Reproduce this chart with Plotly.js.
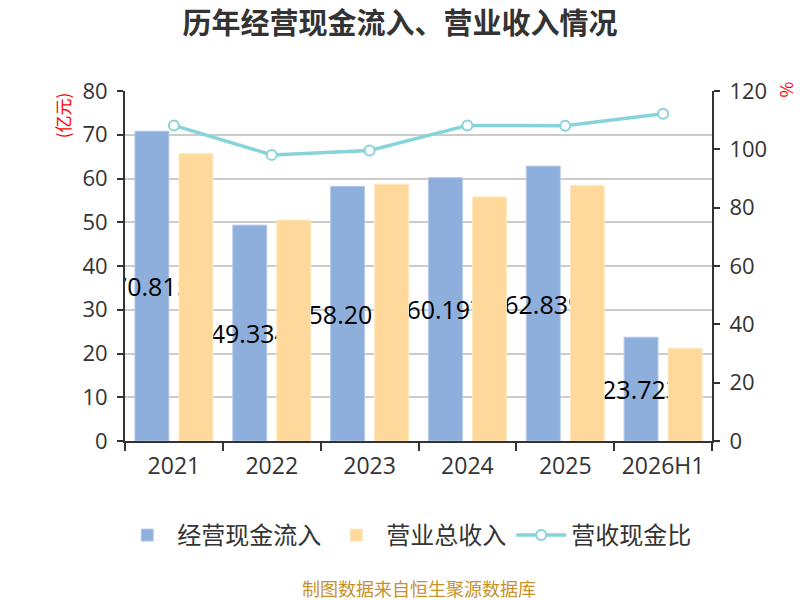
<!DOCTYPE html>
<html>
<head>
<meta charset="utf-8">
<script src="https://cdn.plot.ly/plotly-3.0.1.min.js"></script>
<style>html,body{margin:0;padding:0;background:#fff;}#chart{width:800px;height:600px;}</style>
</head>
<body>
<div id="chart"></div>
<script>
const categories = ['2021', '2022', '2023', '2024', '2025', '2026H1'];
const cashInflow = [70.815, 49.334, 58.201, 60.197, 62.839, 23.723];
const revenue = [65.7, 50.5, 58.7, 55.8, 58.4, 21.2];
const ratio = [108.2, 98.1, 99.6, 108.2, 108.1, 112.2];
const seriesNames = ['经营现金流入', '营业总收入', '营收现金比'];
const leftTicks = [0, 10, 20, 30, 40, 50, 60, 70, 80];
const rightTicks = [0, 20, 40, 60, 80, 100, 120];

const FONT = '"Noto Sans CJK SC", "Noto Sans", sans-serif';
const NUMFONT = '"Open Sans", "Noto Sans", sans-serif';

const traces = [
  {
    type: 'bar', name: seriesNames[0], x: categories, y: cashInflow,
    text: cashInflow.map(v => v.toFixed(3)),
    textposition: 'inside', insidetextanchor: 'middle', textangle: 0,
    constraintext: 'none',
    textfont: {color: '#000000', size: 25, family: NUMFONT},
    marker: {color: '#8eaedb', line: {color: '#b4c9ea', width: 1}},
    hoverinfo: 'none'
  },
  {
    type: 'bar', name: seriesNames[1], x: categories, y: revenue,
    marker: {color: '#fed99b', line: {color: '#fee7bf', width: 1}},
    hoverinfo: 'none'
  },
  {
    type: 'scatter', mode: 'lines+markers', name: seriesNames[2], x: categories, y: ratio,
    yaxis: 'y2',
    line: {color: '#86d4d9', width: 3.5},
    marker: {symbol: 'circle', size: 10, color: '#ffffff', line: {color: '#86d4d9', width: 2}},
    hoverinfo: 'none'
  }
];

const layout = {
  width: 800, height: 600,
  paper_bgcolor: '#ffffff', plot_bgcolor: '#ffffff',
  font: {family: FONT, color: '#333333'},
  margin: {l: 125, r: 88, t: 91, b: 159},
  title: {
    text: '<b>历年经营现金流入、营业收入情况</b>',
    font: {size: 29, color: '#333333', family: FONT},
    x: 0.5, xanchor: 'center', y: 0.96, yanchor: 'middle', yref: 'container'
  },
  barmode: 'group', bargap: 0.1, bargroupgap: 0.23,
  showlegend: true,
  legend: {
    orientation: 'h', x: 0.48, xanchor: 'center', y: -0.27, yanchor: 'middle',
    font: {size: 24, color: '#333333', family: FONT},
    itemwidth: 50, traceorder: 'normal'
  },
  xaxis: {
    type: 'category', showline: true, linecolor: '#333333', linewidth: 2,
    ticks: 'outside', tickson: 'boundaries', ticklen: 8, tickcolor: '#333333', tickwidth: 2,
    tickfont: {size: 23, color: '#333333', family: NUMFONT}, ticklabelstandoff: 3,
    showgrid: false, zeroline: false
  },
  yaxis: {
    range: [0, 80], tickvals: leftTicks, showline: true, linecolor: '#333333', linewidth: 2,
    ticks: 'outside', ticklen: 6, tickcolor: '#333333', tickwidth: 2,
    tickfont: {size: 22, color: '#333333', family: NUMFONT}, ticklabelstandoff: 5,
    showgrid: true, gridcolor: '#cccccc', gridwidth: 2, zeroline: false
  },
  yaxis2: {
    range: [0, 120], tickvals: rightTicks, overlaying: 'y', side: 'right',
    showline: true, linecolor: '#333333', linewidth: 2,
    ticks: 'outside', ticklen: 6, tickcolor: '#333333', tickwidth: 2,
    tickfont: {size: 22, color: '#333333', family: NUMFONT}, ticklabelstandoff: 5,
    showgrid: false, zeroline: false
  },
  annotations: [
    {text: '(亿元)', xref: 'paper', yref: 'paper', x: -0.107, y: 0.931, textangle: -90,
     showarrow: false, font: {size: 17, color: '#ff0000', family: FONT}, xanchor: 'center', yanchor: 'middle'},
    {text: '%', xref: 'paper', yref: 'paper', x: 1.128, y: 1.003, textangle: 90,
     showarrow: false, font: {size: 17, color: '#ff0000', family: FONT}, xanchor: 'center', yanchor: 'middle'},
    {text: '制图数据来自恒生聚源数据库', xref: 'paper', yref: 'paper', x: 0.5, y: -0.421,
     showarrow: false, font: {size: 18, color: '#c8922a', family: FONT}, xanchor: 'center', yanchor: 'middle'}
  ]
};

Plotly.newPlot('chart', traces, layout, {displayModeBar: false, staticPlot: true});
</script>
</body>
</html>
